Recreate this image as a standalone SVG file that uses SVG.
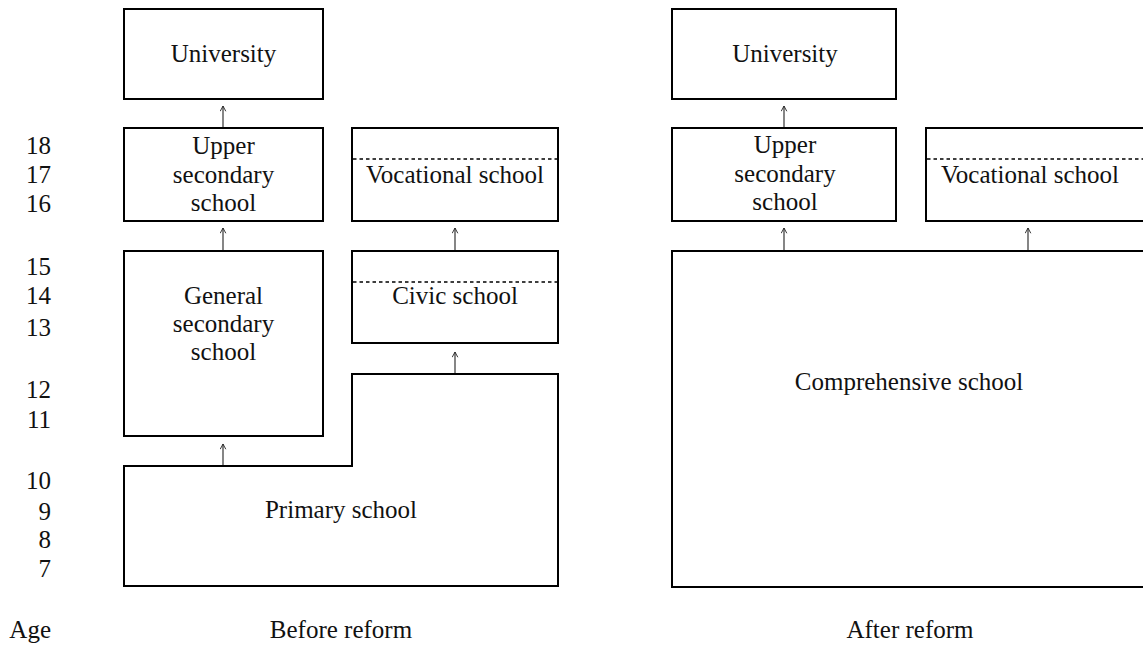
<svg xmlns="http://www.w3.org/2000/svg" width="1143" height="649" viewBox="0 0 1143 649">
  <style>
    .box { fill: #fff; stroke: #000; stroke-width: 2; }
    .div { stroke: #000; stroke-width: 1.6; stroke-dasharray: 3.5 3; fill: none; }
    .lbl { font-family: "Liberation Serif", "Times New Roman", serif; font-size: 25px; fill: #111; text-anchor: middle; }
    .age { font-family: "Liberation Serif", "Times New Roman", serif; font-size: 25px; fill: #111; text-anchor: end; }
    .arr { stroke: #222; stroke-width: 1.1; fill: none; marker-end: url(#head); }
  </style>
  <defs>
    <!-- small open arrowhead, drawn along +x and turned with the line -->
    <marker id="head" viewBox="0 0 10 10" refX="9" refY="5" markerWidth="7" markerHeight="7" markerUnits="userSpaceOnUse" orient="auto">
      <path d="M1.5,1 L9,5 L1.5,9" fill="none" stroke="#222" stroke-width="1.3"/>
    </marker>
  </defs>
  <rect width="1143" height="649" fill="#fff"/>

  <!-- age scale -->
  <g id="ages">
    <text class="age" x="51" y="154">18</text>
    <text class="age" x="51" y="183">17</text>
    <text class="age" x="51" y="212">16</text>
    <text class="age" x="51" y="275">15</text>
    <text class="age" x="51" y="304">14</text>
    <text class="age" x="51" y="336">13</text>
    <text class="age" x="51" y="398">12</text>
    <text class="age" x="51" y="428">11</text>
    <text class="age" x="51" y="489">10</text>
    <text class="age" x="51" y="520">9</text>
    <text class="age" x="51" y="548">8</text>
    <text class="age" x="51" y="577">7</text>
    <text class="age" x="51" y="638">Age</text>
  </g>

  <!-- before reform -->
  <g id="b-university">
    <rect class="box" x="124" y="9" width="199" height="90"/>
    <text class="lbl" x="223.5" y="62">University</text>
  </g>
  <g id="b-upper">
    <rect class="box" x="124" y="128" width="199" height="93"/>
    <text class="lbl" x="223.5" y="154">Upper</text>
    <text class="lbl" x="223.5" y="183">secondary</text>
    <text class="lbl" x="223.5" y="211">school</text>
  </g>
  <g id="b-vocational">
    <rect class="box" x="352" y="128" width="206" height="93"/>
    <line class="div" x1="353" y1="159" x2="557" y2="159"/>
    <text class="lbl" x="455" y="183">Vocational school</text>
  </g>
  <g id="b-general">
    <rect class="box" x="124" y="251" width="199" height="185"/>
    <text class="lbl" x="223.5" y="304">General</text>
    <text class="lbl" x="223.5" y="332">secondary</text>
    <text class="lbl" x="223.5" y="360">school</text>
  </g>
  <g id="b-civic">
    <rect class="box" x="352" y="251" width="206" height="92"/>
    <line class="div" x1="353" y1="282" x2="557" y2="282"/>
    <text class="lbl" x="455" y="304">Civic school</text>
  </g>
  <g id="b-primary">
    <path class="box" d="M124,466 H352 V374 H558 V586 H124 Z"/>
    <text class="lbl" x="341" y="518">Primary school</text>
  </g>
  <text class="lbl" x="341" y="638">Before reform</text>

  <!-- after reform -->
  <g id="a-university">
    <rect class="box" x="672" y="9" width="224" height="90"/>
    <text class="lbl" x="785" y="62">University</text>
  </g>
  <g id="a-upper">
    <rect class="box" x="672" y="128" width="224" height="93"/>
    <text class="lbl" x="785" y="153">Upper</text>
    <text class="lbl" x="785" y="182">secondary</text>
    <text class="lbl" x="785" y="210">school</text>
  </g>
  <g id="a-vocational">
    <rect class="box" x="926" y="128" width="222" height="93"/>
    <line class="div" x1="927" y1="159" x2="1143" y2="159"/>
    <text class="lbl" x="1030" y="183">Vocational school</text>
  </g>
  <g id="a-comprehensive">
    <rect class="box" x="672" y="251" width="476" height="336"/>
    <text class="lbl" x="909" y="390">Comprehensive school</text>
  </g>
  <text class="lbl" x="910" y="638">After reform</text>

  <!-- connectors -->
  <g id="connectors">
    <line class="arr" x1="223" y1="127" x2="223" y2="106"/>
    <line class="arr" x1="223" y1="250" x2="223" y2="228"/>
    <line class="arr" x1="455" y1="250" x2="455" y2="228"/>
    <line class="arr" x1="455" y1="373" x2="455" y2="352"/>
    <line class="arr" x1="223" y1="465" x2="223" y2="444"/>
    <line class="arr" x1="784" y1="127" x2="784" y2="106"/>
    <line class="arr" x1="784" y1="250" x2="784" y2="228"/>
    <line class="arr" x1="1028" y1="250" x2="1028" y2="228"/>
  </g>
</svg>
